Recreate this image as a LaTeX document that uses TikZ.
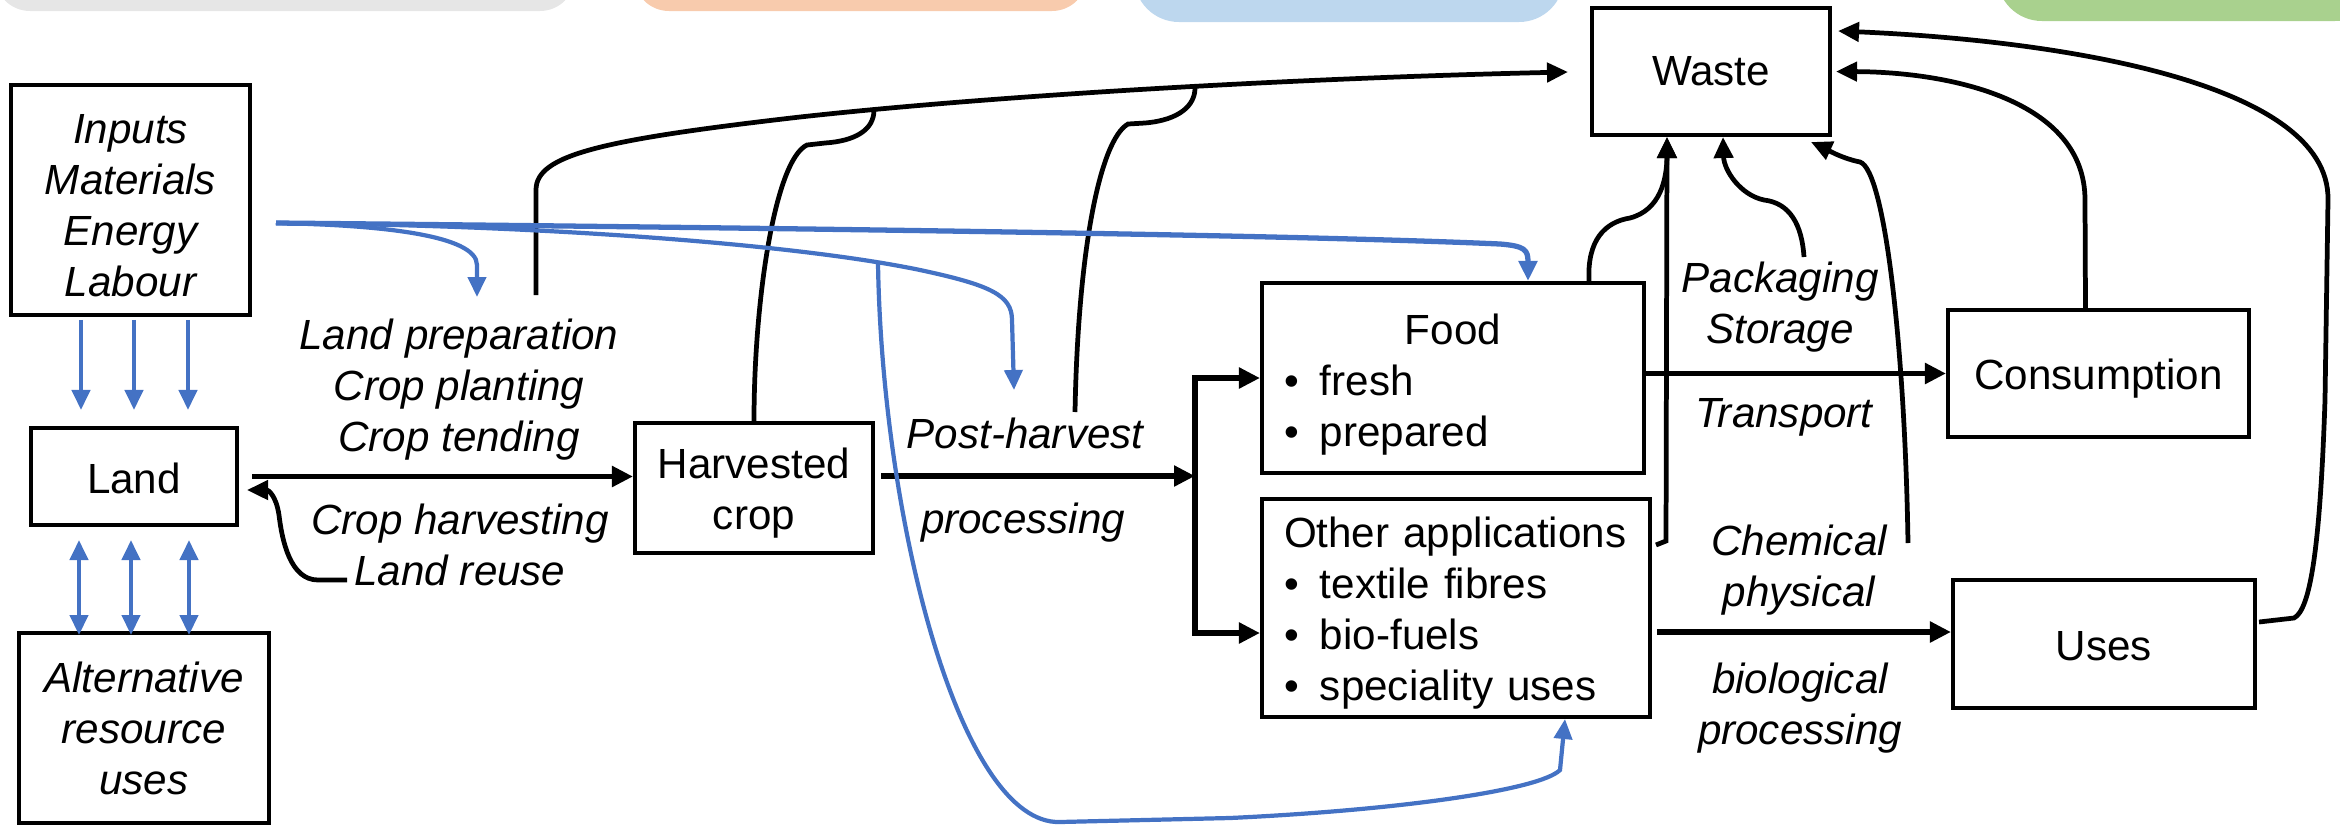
\documentclass[tikz,border=0pt]{standalone}
\usepackage{fontspec}
\setmainfont{Liberation Sans}
\usetikzlibrary{arrows.meta,calc}

\definecolor{inblue}{RGB}{68,114,196}
\definecolor{bargray}{RGB}{230,230,230}
\definecolor{barorange}{RGB}{248,203,173}
\definecolor{barblue}{RGB}{189,215,238}
\definecolor{bargreen}{RGB}{169,209,142}

\newcommand{\labelfont}{\fontsize{12}{14.5}\selectfont}
\newcommand{\bulitem}[1]{\makebox[0.36cm][l]{\textbullet}#1}
% invisible rule that pushes a box's text down a little
\newcommand{\topgap}[1]{\rule{0pt}{#1}}

\begin{document}
\begin{tikzpicture}[
    font=\labelfont,
    box/.style={draw, line width=1.15pt, inner sep=0pt, align=center},
    lbl/.style={inner sep=0pt, align=center, font=\labelfont\itshape},
    flow/.style={line width=1.6pt, -{Triangle[length=0.21cm,width=0.20cm]}},
    wline/.style={line width=1.35pt, -{Triangle[length=0.21cm,width=0.19cm]}},
    feed/.style={draw=inblue, line width=1.2pt, -{Triangle[length=0.20cm,width=0.18cm]}},
    feedboth/.style={draw=inblue, line width=1.2pt, {Triangle[length=0.20cm,width=0.18cm]}-{Triangle[length=0.20cm,width=0.18cm]}}
]
    \useasboundingbox (0,0) rectangle (23.4,-8.25);

    % coloured tabs along the top
    \fill[bargray, rounded corners=0.35cm] (-0.05,0.6) rectangle (5.75,-0.11);
    \fill[barorange, rounded corners=0.35cm] (6.34,0.6) rectangle (10.87,-0.11);
    \fill[barblue, rounded corners=0.45cm] (11.34,0.6) rectangle (15.64,-0.22);
    \fill[bargreen, rounded corners=0.45cm] (19.97,0.6) rectangle (23.8,-0.21);

    % boxes
    \node[box, minimum width=2.39cm, minimum height=2.30cm, font=\labelfont\itshape] (inputs) at (1.305,-2.00) {\topgap{0.40cm}Inputs\\Materials\\Energy\\Labour};
    \node[box, minimum width=2.06cm, minimum height=0.97cm] (land) at (1.34,-4.765) {\topgap{0.34cm}Land};
    \node[box, minimum width=2.50cm, minimum height=1.90cm, font=\labelfont\itshape] (alt) at (1.44,-7.28) {Alternative\\resource\\uses};
    \node[box, minimum width=2.38cm, minimum height=1.30cm] (harv) at (7.54,-4.88) {\topgap{0.40cm}Harvested\\crop};
    \node[box, minimum height=1.90cm, text width=3.38cm, inner xsep=0.22cm, align=left] (food) at (14.53,-3.78)
        {\topgap{0.43cm}\makebox[\linewidth]{Food}\\\bulitem{fresh}\\\bulitem{prepared}};
    \node[box, minimum height=2.18cm, text width=3.44cm, inner xsep=0.22cm, align=left] (other) at (14.56,-6.08)
        {\topgap{0.41cm}Other applications\\\bulitem{textile fibres}\\\bulitem{bio-fuels}\\\bulitem{speciality uses}};
    \node[box, minimum width=2.38cm, minimum height=1.27cm] (waste) at (17.11,-0.715) {Waste};
    \node[box, minimum width=3.01cm, minimum height=1.27cm] (cons) at (20.985,-3.735) {\topgap{0.40cm}Consumption};
    \node[box, minimum width=3.02cm, minimum height=1.28cm] (uses) at (21.04,-6.44) {\topgap{0.34cm}Uses};

    % process labels
    \node[lbl] (prep) at (4.59,-3.90) {Land preparation\\Crop planting\\Crop tending};
    \node[lbl] (reuse) at (4.60,-5.45) {Crop harvesting\\Land reuse};
    \node[lbl, anchor=base] (post) at (10.25,-4.48) {Post-harvest};
    \node[lbl, anchor=base] (proc) at (10.23,-5.33) {processing};
    \node[lbl] (pack) at (17.80,-3.07) {Packaging\\Storage};
    \node[lbl, anchor=base] (trans) at (17.84,-4.27) {Transport};
    \node[lbl] (chem) at (17.99,-5.70) {Chemical\\physical};
    \node[lbl] (bio) at (18.00,-7.08) {biological\\processing};

    % main chain
    \draw[flow, shorten <=0.13cm] (land.east) -- (harv.west |- land.east);
    \coordinate (split) at (11.95,-4.76);
    \draw[flow, shorten <=0.06cm] (harv.east |- split) -- (split);
    \draw[flow] ($(split |- other.west)+(0,-0.25)$) -- (split |- food.west) -- (food.west);
    \draw[flow] (split) |- ($(other.west)+(0,-0.25)$);
    \draw[flow] (food.east |- cons.west) -- (cons.west);
    \draw[flow] ($(other.east)+(0.05,-0.24)$) -- ($(uses.west)+(0,0.12)$);

    % land reuse
    \coordinate (reuseout) at (3.47,-5.80);
    \draw[wline] (reuseout) -- (3.18,-5.80) .. controls (2.90,-5.80) and (2.82,-5.40) .. (2.79,-5.15)
        .. controls (2.76,-4.95) and (2.68,-4.90) .. ($(land.east)+(0.08,-0.135)$);

    % flows to waste
    \coordinate (prepout) at (5.36,-2.95);
    \coordinate (join1) at (8.74,-1.10);
    \coordinate (postout) at (10.75,-4.12);
    \coordinate (join2) at (11.95,-0.88);
    \draw[wline, shorten >=0.22cm] (prepout) -- (5.36,-1.90) .. controls (5.36,-1.55) and (6.0,-1.40) .. (8.0,-1.17)
        .. controls (10.0,-0.95) and (13.0,-0.78) .. (waste.west);
    \draw[line width=1.35pt] (harv.north) .. controls (7.54,-3.0) and (7.75,-1.60) .. (8.07,-1.45) -- (8.25,-1.43)
        .. controls (8.55,-1.41) and (8.74,-1.30) .. (join1);
    \draw[line width=1.35pt] (postout) .. controls (10.78,-2.5) and (11.0,-1.40) .. (11.28,-1.24) -- (11.45,-1.23)
        .. controls (11.80,-1.20) and (11.95,-1.05) .. (join2);
    \draw[wline] ($(food.north east)+(-0.57,0)$) .. controls (15.87,-2.40) and (16.05,-2.22) .. (16.30,-2.18)
        .. controls (16.60,-2.10) and (16.67,-1.80) .. (16.67,-1.55) -- ($(waste.south)+(-0.44,0)$);
    \draw[wline] ($(other.north east)+(0.04,-0.48)$) -- ++(0.1,0.04) -- ($(waste.south)+(-0.44,0)$);
    \coordinate (packout) at (18.04,-2.57);
    \draw[wline] (packout) .. controls (18.02,-2.25) and (17.90,-2.03) .. (17.64,-2.00)
        .. controls (17.40,-1.95) and (17.24,-1.70) .. ($(waste.south)+(0.12,0)$);
    \coordinate (chemout) at (19.08,-5.43);
    \draw[wline] (chemout) .. controls (19.05,-3.50) and (18.85,-1.70) .. (18.60,-1.62)
        .. controls (18.40,-1.58) and (18.22,-1.47) .. ($(waste.south east)+(-0.21,-0.05)$);
    \draw[wline, shorten >=0.04cm] ($(cons.north)+(-0.13,0)$) -- (20.85,-2.00)
        .. controls (20.85,-1.00) and (19.50,-0.72) .. (waste.east);
    \draw[wline] ($(uses.east)+(0.02,0.22)$) -- (22.94,-6.18) .. controls (23.10,-6.10) and (23.20,-5.50) .. (23.25,-4.00)
        -- (23.28,-2.00) .. controls (23.30,-0.80) and (20.50,-0.40) .. ($(waste.north east)+(0.06,-0.25)$);

    % inputs spreading out
    \coordinate (inflow) at (2.76,-2.23);
    \coordinate (loopfrom) at (8.78,-2.63);
    \draw[feed, line width=1.5pt] (inflow) .. controls (8.0,-2.28) and (13.0,-2.35) .. (15.00,-2.44)
        .. controls (15.25,-2.46) and (15.28,-2.50) .. (15.28,-2.62) -- ($(food.north)+(0.75,0)$);
    \draw[feed] (inflow) .. controls (3.80,-2.25) and (4.77,-2.35) .. (4.77,-2.65) -- (4.77,-2.97);
    \draw[feed] (inflow) .. controls (5.50,-2.25) and (8.00,-2.45) .. (9.20,-2.70)
        .. controls (9.90,-2.85) and (10.12,-2.95) .. (10.12,-3.20) -- (10.14,-3.90);
    \draw[feed] (loopfrom) .. controls (8.82,-5.20) and (9.60,-8.25) .. (10.60,-8.22) -- (12.30,-8.18)
        .. controls (14.0,-8.10) and (15.40,-7.90) .. (15.60,-7.70) -- ($(other.south)+(1.09,0)$);
    \foreach \dx in {-0.53,0,0.54}
        \draw[feed] ($(land.north)+(\dx,1.06)$) -- ($(land.north)+(\dx,0.16)$);
    \foreach \dx in {-0.55,-0.03,0.55}
        \draw[feedboth] ($(land.south)+(\dx,-0.13)$) -- ($(land.south)+(\dx,-1.08)$);
\end{tikzpicture}
\end{document}
